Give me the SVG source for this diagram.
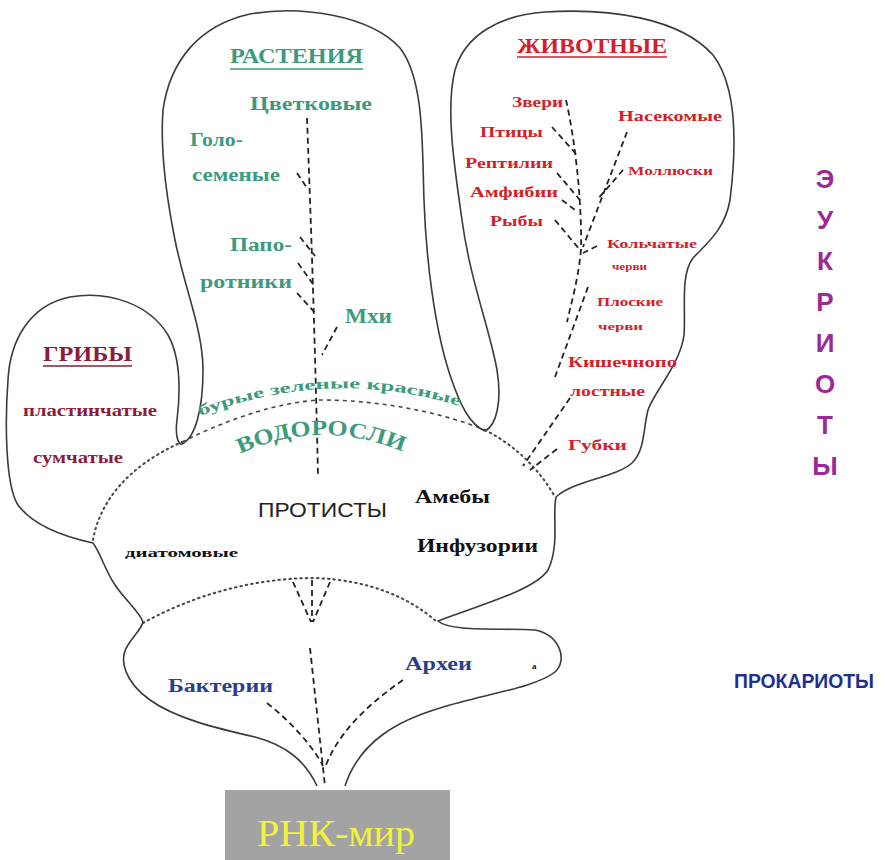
<svg xmlns="http://www.w3.org/2000/svg" width="885" height="860" viewBox="0 0 885 860">
<style>
.outline{fill:none;stroke:#3a3a3a;stroke-width:1.6;stroke-linejoin:round}
.dot{fill:none;stroke:#444;stroke-width:2;stroke-dasharray:1.5 4;stroke-linecap:round}
.dash{fill:none;stroke:#222;stroke-width:1.8;stroke-dasharray:6 4}
.dash2{fill:none;stroke:#444;stroke-width:1.6;stroke-dasharray:4 4}
.lbl{font-family:"Liberation Serif","DejaVu Serif",serif;font-weight:bold}
.pl{fill:#3d9a7c}
.an{fill:#d21f2b}
.fu{fill:#8a1c3c}
.pk{fill:#2b3f8c}
.k{fill:#111}
.ul{stroke-width:1.6}
</style>
<rect width="885" height="860" fill="#fff"/>
<g id="outline">
<path class="outline" d="M 317 786 C 305 760, 285 745, 255 737 C 215 728, 175 718, 150 700 C 125 682, 118 660, 128 645 C 135 634, 142 628, 143 622 C 140 612, 125 600, 115 585 C 105 570, 100 552, 93 543 C 70 538, 35 528, 18 505 C 5 485, 5 420, 8 380 C 10 340, 30 305, 70 297 C 110 290, 150 305, 168 335 C 182 360, 180 395, 177 420 C 175 435, 178 445, 182 444 C 195 438, 203 410, 203 370 C 203 330, 185 290, 175 240 C 167 200, 160 150, 163 110 C 170 60, 200 25, 250 14 C 300 5, 370 15, 400 48 C 425 80, 422 150, 424 200 C 426 260, 435 330, 450 375 C 460 405, 470 425, 485 431 C 497 425, 502 400, 497 370 C 490 330, 470 280, 462 220 C 455 170, 445 110, 455 70 C 465 35, 500 15, 545 12 C 610 8, 680 18, 713 55 C 740 90, 735 160, 730 200 C 725 230, 705 245, 693 258 C 680 275, 686 310, 684 335 C 680 365, 655 390, 648 410 C 643 430, 645 450, 632 463 C 615 478, 575 480, 556 497 C 552 515, 560 545, 548 570 C 535 590, 480 605, 438 621 C 450 632, 500 628, 535 630 C 560 635, 568 660, 555 672 C 535 688, 480 695, 440 708 C 400 720, 360 740, 345 786"/>
<path class="dot" d="M 93 540 C 100 500, 130 465, 182 442"/>
<path class="dash2" d="M 182 442 C 230 418, 280 402, 320 400 C 380 400, 440 412, 485 430"/>
<path class="dot" d="M 485 430 C 515 445, 540 470, 555 497"/>
<path class="dot" d="M 143 623 C 190 597, 250 578, 315 578 C 370 580, 410 598, 437 622"/>
</g>
<g id="connectors">
<path class="dash" d="M 307 118 C 310 200, 314 300, 318 475"/>
<path class="dash" d="M 297 173 L 307 188"/>
<path class="dash" d="M 300 237 L 315 256"/>
<path class="dash" d="M 298 263 L 315 287"/>
<path class="dash" d="M 297 293 L 317 315"/>
<path class="dash" d="M 337 327 L 322 355"/>
<path class="dash" d="M 566 100 C 575 140, 582 200, 581 250 C 578 280, 572 300, 567 322"/>
<path class="dash" d="M 552 127 L 577 155"/>
<path class="dash" d="M 557 173 L 580 200"/>
<path class="dash" d="M 562 200 L 575 210"/>
<path class="dash" d="M 555 220 L 580 250"/>
<path class="dash" d="M 627 132 L 583 247"/>
<path class="dash" d="M 623 170 L 597 200"/>
<path class="dash" d="M 597 246 L 583 253"/>
<path class="dash" d="M 588 287 L 555 377"/>
<path class="dash" d="M 570 398 L 523 466"/>
<path class="dash" d="M 557 449 L 530 470"/>
<path class="dash" d="M 293 582 L 311 622"/>
<path class="dash" d="M 312 580 L 312 622"/>
<path class="dash" d="M 330 582 L 313 622"/>
<path class="dash" d="M 310 648 L 323 768 L 325 786"/>
<path class="dash" d="M 267 703 C 295 725, 315 750, 323 766"/>
<path class="dash" d="M 403 680 C 370 703, 340 730, 326 765"/>
</g>
<g id="plants">
<text class="lbl pl" x="230" y="63" font-size="21" font-weight="normal" textLength="133" lengthAdjust="spacingAndGlyphs">РАСТЕНИЯ</text>
<line x1="230" y1="69" x2="363" y2="69" stroke="#3d9a7c" class="ul"/>
<text class="lbl pl" x="250" y="110" font-size="19" textLength="122" lengthAdjust="spacingAndGlyphs">Цветковые</text>
<text class="lbl pl" x="190" y="146" font-size="19" textLength="53" lengthAdjust="spacingAndGlyphs">Голо-</text>
<text class="lbl pl" x="192" y="181" font-size="19" textLength="88" lengthAdjust="spacingAndGlyphs">семеные</text>
<text class="lbl pl" x="230" y="251" font-size="19" textLength="62" lengthAdjust="spacingAndGlyphs">Папо-</text>
<text class="lbl pl" x="200" y="288" font-size="19" textLength="92" lengthAdjust="spacingAndGlyphs">ротники</text>
<text class="lbl pl" x="345" y="323" font-size="20" textLength="47" lengthAdjust="spacingAndGlyphs">Мхи</text>
</g>
<g id="algae">
<path id="arc1" d="M 200 416 Q 332 365 466 408" fill="none"/>
<path id="arc2" d="M 240 454 Q 322 416 408 454" fill="none"/>
<text class="lbl pl" font-size="15" font-weight="normal"><textPath href="#arc1" textLength="265" lengthAdjust="spacingAndGlyphs">бурые зеленые красные</textPath></text>
<text class="lbl pl" font-size="22" font-weight="normal"><textPath href="#arc2" textLength="168" lengthAdjust="spacingAndGlyphs">ВОДОРОСЛИ</textPath></text>
</g>
<g id="animals">
<text class="lbl an" x="517" y="53" font-size="20" font-weight="normal" textLength="150" lengthAdjust="spacingAndGlyphs">ЖИВОТНЫЕ</text>
<line x1="517" y1="57" x2="667" y2="57" stroke="#d21f2b" class="ul"/>
<text class="lbl an" x="512" y="107" font-size="15" textLength="51" lengthAdjust="spacingAndGlyphs">Звери</text>
<text class="lbl an" x="618" y="121" font-size="15" textLength="104" lengthAdjust="spacingAndGlyphs">Насекомые</text>
<text class="lbl an" x="480" y="137" font-size="15" textLength="63" lengthAdjust="spacingAndGlyphs">Птицы</text>
<text class="lbl an" x="465" y="168" font-size="15" textLength="88" lengthAdjust="spacingAndGlyphs">Рептилии</text>
<text class="lbl an" x="628" y="175" font-size="12" textLength="85" lengthAdjust="spacingAndGlyphs">Моллюски</text>
<text class="lbl an" x="470" y="197" font-size="15" textLength="88" lengthAdjust="spacingAndGlyphs">Амфибии</text>
<text class="lbl an" x="490" y="226" font-size="15" textLength="53" lengthAdjust="spacingAndGlyphs">Рыбы</text>
<text class="lbl an" x="607" y="248" font-size="12" textLength="90" lengthAdjust="spacingAndGlyphs">Кольчатые</text>
<text class="lbl an" x="612" y="270" font-size="11" textLength="35" lengthAdjust="spacingAndGlyphs">черви</text>
<text class="lbl an" x="597" y="306" font-size="12" textLength="66" lengthAdjust="spacingAndGlyphs">Плоские</text>
<text class="lbl an" x="598" y="330" font-size="11" textLength="45" lengthAdjust="spacingAndGlyphs">черви</text>
<text class="lbl an" x="568" y="367" font-size="15" textLength="109" lengthAdjust="spacingAndGlyphs">Кишечнопо</text>
<text class="lbl an" x="570" y="396" font-size="15" textLength="75" lengthAdjust="spacingAndGlyphs">лостные</text>
<text class="lbl an" x="568" y="450" font-size="15" textLength="59" lengthAdjust="spacingAndGlyphs">Губки</text>
</g>
<g id="fungi">
<text class="lbl fu" x="43" y="361" font-size="21" font-weight="normal" textLength="89" lengthAdjust="spacingAndGlyphs">ГРИБЫ</text>
<line x1="43" y1="366" x2="132" y2="366" stroke="#8a1c3c" class="ul"/>
<text class="lbl fu" x="23" y="416" font-size="17" textLength="134" lengthAdjust="spacingAndGlyphs">пластинчатые</text>
<text class="lbl fu" x="33" y="463" font-size="17" textLength="90" lengthAdjust="spacingAndGlyphs">сумчатые</text>
</g>
<g id="protists">
<text x="258" y="517" font-family="'Liberation Sans','DejaVu Sans',sans-serif" font-size="21" fill="#222" textLength="129" lengthAdjust="spacingAndGlyphs">ПРОТИСТЫ</text>
<text class="lbl k" x="415" y="503" font-size="18" textLength="75" lengthAdjust="spacingAndGlyphs">Амебы</text>
<text class="lbl k" x="417" y="552" font-size="18" textLength="121" lengthAdjust="spacingAndGlyphs">Инфузории</text>
<text class="lbl k" x="125" y="557" font-size="13" textLength="113" lengthAdjust="spacingAndGlyphs">диатомовые</text>
</g>
<g id="prokaryotes">
<text class="lbl pk" x="168" y="692" font-size="18" textLength="105" lengthAdjust="spacingAndGlyphs">Бактерии</text>
<text class="lbl pk" x="405" y="670" font-size="18" textLength="67" lengthAdjust="spacingAndGlyphs">Археи</text>
<text class="lbl k" x="532" y="669" font-size="9" fill="#333">а</text>
</g>
<g id="rna-world">
<rect x="225" y="790" width="225" height="70" fill="#a3a3a3"/>
<text x="257" y="846" font-family="'Liberation Serif','DejaVu Serif',serif" font-size="38" fill="#f2f23c" textLength="158" lengthAdjust="spacingAndGlyphs">РНК-мир</text>
</g>
<g id="eukaryotes-label" font-family="'Liberation Sans','DejaVu Sans',sans-serif" font-weight="bold" font-size="26" fill="#9a2a96" text-anchor="middle">
<text x="825" y="188">Э</text>
<text x="825" y="229">У</text>
<text x="825" y="270">К</text>
<text x="825" y="311">Р</text>
<text x="825" y="352">И</text>
<text x="825" y="393">О</text>
<text x="825" y="434">Т</text>
<text x="825" y="475">Ы</text>
</g>
<g id="prokaryotes-label">
<text x="734" y="688" font-family="'Liberation Sans','DejaVu Sans',sans-serif" font-weight="bold" font-size="21" fill="#1f2f8f" textLength="140" lengthAdjust="spacingAndGlyphs">ПРОКАРИОТЫ</text>
</g>
</svg>
